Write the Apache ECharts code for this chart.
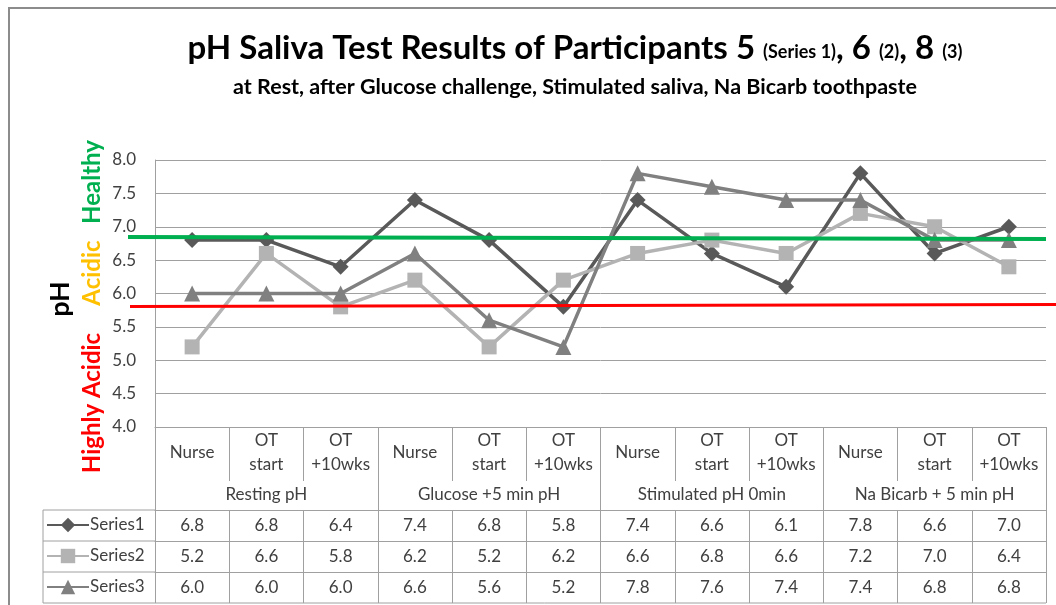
<!DOCTYPE html>
<html>
<head>
<meta charset="utf-8">
<script src="https://cdn.jsdelivr.net/npm/echarts@6/dist/echarts.min.js"></script>
<style>
    html, body { margin: 0; padding: 0; background: #fff; }
    #chart { width: 1056px; height: 605px; }
</style>
</head>
<body>
<div id="chart"></div>
<script>
// data
const categories = ['Nurse', 'OT\nstart', 'OT\n+10wks', 'Nurse', 'OT\nstart', 'OT\n+10wks',
    'Nurse', 'OT\nstart', 'OT\n+10wks', 'Nurse', 'OT\nstart', 'OT\n+10wks'];
const groups = ['Resting pH', 'Glucose +5 min pH', 'Stimulated pH 0min', 'Na Bicarb + 5 min pH'];
const seriesNames = ['Series1', 'Series2', 'Series3'];
const series1 = [6.8, 6.8, 6.4, 7.4, 6.8, 5.8, 7.4, 6.6, 6.1, 7.8, 6.6, 7.0];
const series2 = [5.2, 6.6, 5.8, 6.2, 5.2, 6.2, 6.6, 6.8, 6.6, 7.2, 7.0, 6.4];
const series3 = [6.0, 6.0, 6.0, 6.6, 5.6, 5.2, 7.8, 7.6, 7.4, 7.4, 6.8, 6.8];
const yMin = 4.0, yMax = 8.0, yStep = 0.5;
const healthyLine = 6.83;   // green
const acidLine = 5.82;      // red

const font = 'Lato';
const gridColor = '#a0a0a0';
const textColor = '#404040';

// table geometry (below the plot)
const catH = 54, groupH = 83, rowH = 31;
const gridTop = 160, gridBottom = 178;

let chart = echarts.init(document.getElementById('chart'));

function rowAxis(values, i) {
    return {
        type: 'category',
        gridIndex: 0,
        position: 'bottom',
        offset: groupH + rowH * i,
        data: values.map(v => v.toFixed(1)),
        axisLine: {show: true, lineStyle: {color: gridColor, width: 1}},
        axisTick: {show: true, interval: 0, length: rowH, lineStyle: {color: gridColor}},
        axisLabel: {
            interval: 0, margin: rowH / 2, verticalAlign: 'middle',
            fontFamily: font, fontSize: 17, color: textColor
        }
    };
}

// one legend per table row so each sits in its own cell
function rowLegend(name, i) {
    let rowCenter = 605 - gridBottom + groupH + rowH * i + rowH / 2;
    return {
        left: 46,
        top: rowCenter - 9,
        padding: 0,
        itemWidth: 42,
        itemHeight: 18,
        selectedMode: false,
        data: [name],
        textStyle: {fontFamily: font, fontSize: 17, color: textColor, padding: [0, 0, 0, -4]}
    };
}

let option = {
    animation: false,
    title: {
        left: 570,
        top: 27,
        textAlign: 'center',
        text: '{a|pH Saliva Test Results of Participants 5 }{b|(Series 1)}{a|, 6 }{b|(2)}{a|, 8 }{b|(3)}',
        textStyle: {
            rich: {
                a: {fontFamily: font, fontSize: 33, fontWeight: 'bold', color: '#000'},
                b: {fontFamily: font, fontSize: 18, fontWeight: 'bold', color: '#000', padding: [8, 0, 0, 0]}
            }
        },
        subtext: 'at Rest, after Glucose challenge, Stimulated saliva, Na Bicarb toothpaste',
        subtextStyle: {fontFamily: font, fontSize: 21.5, fontWeight: 'bold', color: '#000'},
        itemGap: 11
    },
    legend: seriesNames.map(rowLegend),
    grid: {left: 155, right: 10, top: gridTop, bottom: gridBottom},
    xAxis: [
        {
            type: 'category',
            data: categories,
            axisLine: {show: true, lineStyle: {color: gridColor}},
            axisTick: {show: true, interval: 0, length: catH, lineStyle: {color: gridColor}},
            axisLabel: {
                interval: 0, margin: 26, verticalAlign: 'middle', lineHeight: 24,
                fontFamily: font, fontSize: 17, color: textColor
            }
        },
        {
            type: 'category',
            data: groups,
            position: 'bottom',
            axisLine: {show: false},
            axisTick: {show: true, interval: 0, length: groupH, lineStyle: {color: gridColor}},
            axisLabel: {
                interval: 0, margin: 68, verticalAlign: 'middle',
                fontFamily: font, fontSize: 17, color: textColor
            }
        },
        rowAxis(series1, 0),
        rowAxis(series2, 1),
        rowAxis(series3, 2)
    ],
    yAxis: {
        type: 'value',
        min: yMin,
        max: yMax,
        interval: yStep,
        axisLine: {show: true, lineStyle: {color: gridColor}},
        axisTick: {show: false},
        splitLine: {lineStyle: {color: gridColor}},
        axisLabel: {
            margin: 19,
            fontFamily: font, fontSize: 17, color: textColor,
            formatter: v => v.toFixed(1)
        }
    },
    series: [
        {
            name: 'Series1', type: 'line', data: series1,
            symbol: 'diamond', symbolSize: 16,
            itemStyle: {color: '#595959'},
            lineStyle: {color: '#595959', width: 3.5}
        },
        {
            name: 'Series2', type: 'line', data: series2,
            symbol: 'rect', symbolSize: 15,
            itemStyle: {color: '#b3b3b3'},
            lineStyle: {color: '#b3b3b3', width: 3.5}
        },
        {
            name: 'Series3', type: 'line', data: series3,
            symbol: 'triangle', symbolSize: 16,
            itemStyle: {color: '#808080'},
            lineStyle: {color: '#808080', width: 3.5}
        }
    ]
};

chart.setOption(option);

// threshold lines and table frame, placed through the axes
let yHealthy = chart.convertToPixel({yAxisIndex: 0}, healthyLine);
let yAcid = chart.convertToPixel({yAxisIndex: 0}, acidLine);
let plotBottom = chart.convertToPixel({yAxisIndex: 0}, yMin);
let gridRight = 1056 - 10;
let rowTop = plotBottom + groupH;
let tableLeft = 43;
let gridLeft = 155;

let graphics = [
    {
        type: 'rect', silent: true, z: 0,
        shape: {x: 9, y: 8, width: 1200, height: 700},
        style: {fill: null, stroke: '#8c8c8c', lineWidth: 2}
    },
    {
        type: 'text', x: 60, y: 299, rotation: Math.PI / 2,
        style: {text: 'pH', font: 'bold 27px Lato', fill: '#000', align: 'center', verticalAlign: 'middle'}
    },
    {
        type: 'text', x: 92, y: 182, rotation: Math.PI / 2,
        style: {text: 'Healthy', font: 'bold 24px Lato', fill: '#00b050', align: 'center', verticalAlign: 'middle'}
    },
    {
        type: 'text', x: 92, y: 273, rotation: Math.PI / 2,
        style: {text: 'Acidic', font: 'bold 24px Lato', fill: '#ffc000', align: 'center', verticalAlign: 'middle'}
    },
    {
        type: 'text', x: 92, y: 403, rotation: Math.PI / 2,
        style: {text: 'Highly Acidic', font: 'bold 24px Lato', fill: '#ff0000', align: 'center', verticalAlign: 'middle'}
    },
    {
        type: 'line', silent: true, z: 100,
        shape: {x1: 128, y1: yHealthy - 1, x2: gridRight, y2: yHealthy + 1},
        style: {stroke: '#00b050', lineWidth: 4}
    },
    {
        type: 'line', silent: true, z: 100,
        shape: {x1: 130, y1: yAcid + 1, x2: 1056, y2: yAcid - 1},
        style: {stroke: '#ff0000', lineWidth: 3}
    },
    {
        type: 'line', silent: true,
        shape: {x1: tableLeft, y1: rowTop, x2: tableLeft, y2: rowTop + rowH * 3},
        style: {stroke: gridColor, lineWidth: 1}
    },
    {
        type: 'line', silent: true,
        shape: {x1: tableLeft, y1: rowTop + rowH * 3, x2: gridRight, y2: rowTop + rowH * 3},
        style: {stroke: gridColor, lineWidth: 1}
    }
];
for (let i = 0; i < 3; i++) {
    graphics.push({
        type: 'line', silent: true,
        shape: {x1: tableLeft, y1: rowTop + rowH * i, x2: gridLeft, y2: rowTop + rowH * i},
        style: {stroke: gridColor, lineWidth: 1}
    });
}
chart.setOption({graphic: graphics});
</script>
</body>
</html>
